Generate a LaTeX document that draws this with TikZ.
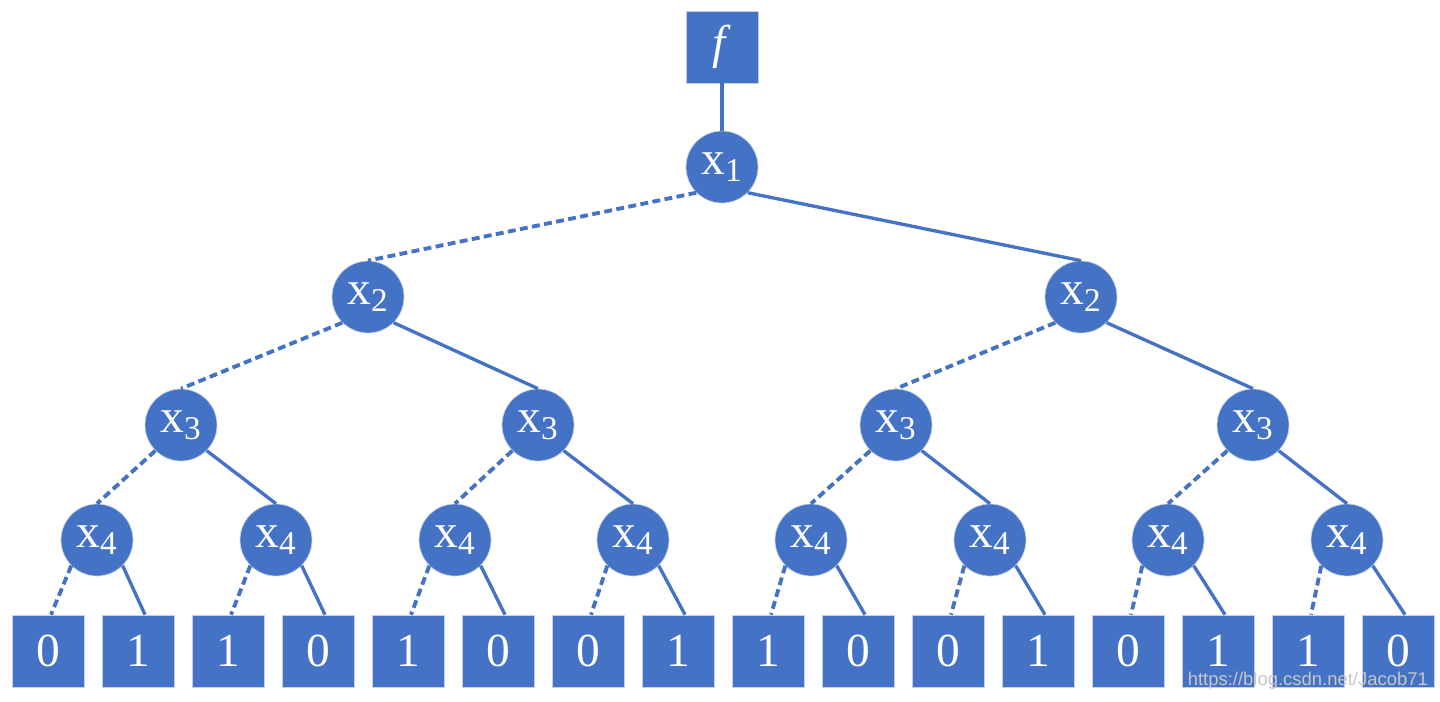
\documentclass[tikz,border=0pt]{standalone}
\usepackage{fontspec}
\setmainfont{Liberation Serif}
\newfontfamily\marksans{Liberation Sans}
\usepackage{xcolor}
\definecolor{treeblue}{HTML}{4472C4}
\definecolor{treerim}{HTML}{C5D0E4}

\begin{document}
\begin{tikzpicture}[x=0.02cm, y=-0.02cm,
    var/.style={circle, fill=treeblue, draw=treerim, line width=0.4pt,
      minimum size=1.44cm, inner sep=0pt, text=white,
      font=\fontsize{27}{27}\selectfont},
    term/.style={rectangle, fill=treeblue, draw=treerim, line width=0.4pt,
      minimum size=1.44cm, inner sep=0pt, text=white,
      font=\fontsize{27}{27}\selectfont},
    lo/.style={treeblue, line width=2.2pt, dash pattern=on 4.5pt off 2.5pt},
    hi/.style={treeblue, line width=1.9pt},
  ]
  \useasboundingbox (0,0) rectangle (1440,701);

  % function box and the first variable
  \node[term] (f) at (722,47) {\textit{f}};
  \node[var] (x1) at (722,167) {\raisebox{-2pt}{x\textsubscript{1}}};
  \draw[hi] (f.south) -- (x1.north);

  % inner levels, 1 unit = 1 px of the original
  \node[var] (x2-1) at (368,297) {\raisebox{-2pt}{x\textsubscript{2}}};
  \node[var] (x2-2) at (1081,297) {\raisebox{-2pt}{x\textsubscript{2}}};
  \foreach \xx [count=\i] in {181,538,896,1253}
    \node[var] (x3-\i) at (\xx,425) {\raisebox{-2pt}{x\textsubscript{3}}};
  \foreach \xx [count=\i] in {97,276,455,633,811,990,1168,1347}
    \node[var] (x4-\i) at (\xx,540) {\raisebox{-2pt}{x\textsubscript{4}}};

  % terminal values
  \foreach \v [count=\i] in {0,1,1,0,1,0,0,1,1,0,0,1,0,1,1,0}
    \node[term] (leaf\i) at ({-42+90*\i},651) {\v};

  % dashed = 0-branch, solid = 1-branch
  \foreach \p/\l/\r in {x1/x2-1/x2-2, x2-1/x3-1/x3-2, x2-2/x3-3/x3-4,
                        x3-1/x4-1/x4-2, x3-2/x4-3/x4-4,
                        x3-3/x4-5/x4-6, x3-4/x4-7/x4-8}{
    \draw[lo] (\p.south west) -- (\l.north);
    \draw[hi] (\p.south east) -- (\r.north);
  }
  \foreach \i [evaluate=\i as \l using int(2*\i-1),
               evaluate=\i as \r using int(2*\i)] in {1,...,8}{
    \draw[lo] (x4-\i.south west) -- ([xshift=0.06cm]leaf\l.north);
    \draw[hi] (x4-\i.south east) -- ([xshift=0.14cm]leaf\r.north);
  }

  \node[font=\marksans\fontsize{10.5}{11}\selectfont, text=black!22,
        anchor=east] (mark) at (1434,681) {https://blog.csdn.net/Jacob71};
\end{tikzpicture}
\end{document}
